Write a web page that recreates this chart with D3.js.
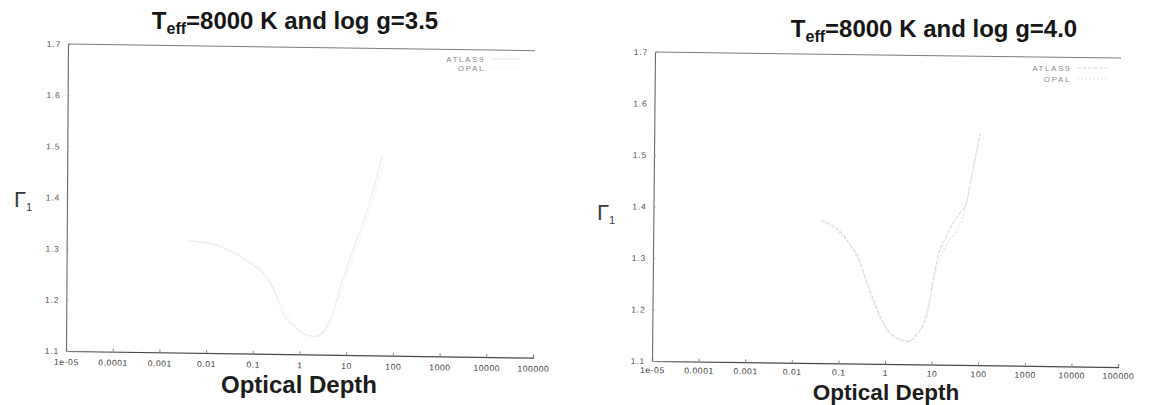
<!DOCTYPE html>
<html>
<head>
<meta charset="utf-8">
<script src="https://cdn.jsdelivr.net/npm/d3@7"></script>
<style>
  html, body { margin: 0; padding: 0; background: #ffffff; }
  svg { display: block; font-family: "Liberation Sans", Arial, Helvetica, sans-serif; }
</style>
</head>
<body>
<svg id="chart" width="1150" height="405"></svg>
<script>
// Axis ticks
const depthTicks = [1e-5, 1e-4, 1e-3, 1e-2, 1e-1, 1, 10, 100, 1000, 1e4, 1e5];
const depthTickLabels = ["1e-05", "0.0001", "0.001", "0.01", "0.1", "1", "10", "100", "1000", "10000", "100000"];
const gammaTicks = [1.1, 1.2, 1.3, 1.4, 1.5, 1.6, 1.7];
const gammaTickLabels = ["1.1", "1.2", "1.3", "1.4", "1.5", "1.6", "1.7"];
const seriesNames = ["ATLAS9", "OPAL"];

// Teff = 8000 K, log g = 3.5
const tauAtlas35 = [0.004, 0.008, 0.014, 0.04, 0.1, 0.16, 0.3, 0.46, 0.8, 1.4, 2.2, 3.5, 5, 6.5, 8, 10, 14, 22, 35, 55];
const gamAtlas35 = [1.318, 1.316, 1.312, 1.295, 1.272, 1.259, 1.218, 1.176, 1.152, 1.138, 1.135, 1.15, 1.18, 1.215, 1.245, 1.27, 1.31, 1.36, 1.42, 1.49];
const tauOpal35 = [0.004, 0.014, 0.04, 0.1, 0.2, 0.35, 0.6, 1.0, 1.8, 3, 4.5, 6.5, 8.5, 11, 16, 25, 40, 60];
const gamOpal35 = [1.32, 1.314, 1.298, 1.275, 1.25, 1.21, 1.17, 1.148, 1.136, 1.14, 1.165, 1.205, 1.235, 1.265, 1.31, 1.36, 1.42, 1.48];

// Teff = 8000 K, log g = 4.0
const tauAtlas40 = [0.04, 0.11, 0.18, 0.25, 0.40, 0.56, 0.72, 1.0, 1.8, 3.2, 4.8, 6.2, 7.9, 9.2, 10, 11, 12.9, 17.8, 24.5, 37, 52, 62, 72, 100];
const gamAtlas40 = [1.378, 1.353, 1.327, 1.308, 1.256, 1.224, 1.198, 1.172, 1.150, 1.144, 1.160, 1.173, 1.199, 1.232, 1.258, 1.277, 1.310, 1.342, 1.368, 1.394, 1.414, 1.453, 1.485, 1.550];
const tauOpal40 = [0.04, 0.1, 0.2, 0.35, 0.6, 1.0, 1.8, 3.2, 5, 7, 9, 10.5, 12, 15, 22, 32, 45, 55, 70, 95];
const gamOpal40 = [1.375, 1.352, 1.32, 1.27, 1.21, 1.172, 1.15, 1.145, 1.16, 1.19, 1.23, 1.26, 1.285, 1.31, 1.34, 1.36, 1.39, 1.43, 1.48, 1.54];

const svg = d3.select("#chart");

function zip(t, g) { return t.map((v, i) => ({ tau: v, gamma: g[i] })); }

function drawPanel(p) {
  const W = p.width, H = p.height;
  const x = d3.scaleLog().domain([1e-5, 1e5]).range([0, W]);
  const y = d3.scaleLinear().domain([1.1, 1.7]).range([0, -H]);

  // the printed frame sits slightly skewed on the page
  const g = svg.append("g")
    .attr("transform", `matrix(1,${p.skewY},${p.skewX},1,${p.x0},${p.y0})`);

  // data curves
  const line = d3.line().x(d => x(d.tau)).y(d => y(d.gamma)).curve(d3.curveMonotoneX);
  p.series.forEach(s => {
    g.append("path")
      .datum(zip(s.tau, s.gamma))
      .attr("fill", "none")
      .attr("stroke", s.color)
      .attr("stroke-width", 1.1)
      .attr("stroke-dasharray", s.dash || null)
      .attr("d", line);
  });

  // bottom axis
  const xAxis = d3.axisBottom(x)
    .tickValues(depthTicks)
    .tickFormat((d, i) => depthTickLabels[i])
    .tickSize(-3)
    .tickPadding(p.xPad);
  const xa = g.append("g").call(xAxis);
  xa.select(".domain").attr("stroke", "#4a4a4a").attr("stroke-width", 1.2);
  xa.selectAll(".tick line").attr("stroke", "#8a8a8a");
  xa.selectAll(".tick text")
    .attr("fill", "#3a3a3a")
    .attr("font-size", 8.5)
    .attr("letter-spacing", 0.6)
    .attr("font-family", "Liberation Sans, Arial, sans-serif");

  // left axis
  const yAxis = d3.axisLeft(y)
    .tickValues(gammaTicks)
    .tickFormat((d, i) => gammaTickLabels[i])
    .tickSize(-2)
    .tickPadding(7);
  const ya = g.append("g").call(yAxis);
  ya.select(".domain").attr("stroke", "#6a6a6a").attr("stroke-width", 1.1);
  ya.selectAll(".tick line").attr("stroke", "#9a9a9a");
  ya.selectAll(".tick text")
    .attr("fill", "#555")
    .attr("font-size", 8.5)
    .attr("letter-spacing", 0.8)
    .attr("font-family", "Liberation Sans, Arial, sans-serif");

  // top border
  g.append("line")
    .attr("x1", x(1e-5)).attr("x2", x(1e5))
    .attr("y1", y(1.7)).attr("y2", y(1.7))
    .attr("stroke", "#7a7a7a").attr("stroke-width", 1);

  // key
  p.series.forEach((s, i) => {
    const ly = p.legendY[i];
    svg.append("text")
      .attr("x", p.legendX).attr("y", ly)
      .attr("dy", "0.35em")
      .attr("text-anchor", "end")
      .attr("font-size", 8)
      .attr("letter-spacing", 1.6)
      .attr("fill", "#8a8a8a")
      .text(seriesNames[i]);
    svg.append("line")
      .attr("x1", p.legendX + 6).attr("x2", p.legendX + 36)
      .attr("y1", ly).attr("y2", ly)
      .attr("stroke", s.color).attr("stroke-width", 1.1)
      .attr("stroke-dasharray", s.dash || null);
  });

  // title
  const t = svg.append("text")
    .attr("x", p.titleX).attr("y", p.titleY)
    .attr("text-anchor", "middle")
    .attr("font-size", 24).attr("font-weight", "bold")
    .attr("fill", "#161616");
  t.append("tspan").text("T");
  t.append("tspan").attr("font-size", 16).attr("dy", 5).text("eff");
  t.append("tspan").attr("dy", -5).text(p.title);

  // axis titles
  svg.append("text")
    .attr("x", p.xLabelX).attr("y", p.xLabelY)
    .attr("text-anchor", "middle")
    .attr("font-size", p.xLabelSize).attr("font-weight", "bold")
    .attr("fill", "#1c1c1c")
    .text("Optical Depth");

  const yl = svg.append("text")
    .attr("x", p.yLabelX).attr("y", p.yLabelY)
    .attr("text-anchor", "middle")
    .attr("font-size", 22)
    .attr("fill", "#3a3a3a");
  yl.append("tspan").text("Γ");
  yl.append("tspan").attr("font-size", 11).attr("dy", 4).text("1");
}

drawPanel({
  x0: 66, y0: 351, width: 467, height: 307, skewY: 0.0143, skewX: -0.0065,
  title: "=8000 K and log g=3.5", titleX: 295, titleY: 29,
  xLabelX: 299, xLabelY: 393, xLabelSize: 24, xPad: 8,
  yLabelX: 23, yLabelY: 207,
  legendX: 485, legendY: [59, 68],
  series: [
    { tau: tauAtlas35, gamma: gamAtlas35, color: "#ececec" },
    { tau: tauOpal35, gamma: gamOpal35, color: "#efefef", dash: "2,2" }
  ]
});

drawPanel({
  x0: 652, y0: 361, width: 466, height: 309, skewY: 0.0129, skewX: -0.0097,
  title: "=8000 K and log g=4.0", titleX: 934, titleY: 37,
  xLabelX: 886, xLabelY: 400, xLabelSize: 22.5, xPad: 6,
  yLabelX: 606, yLabelY: 220,
  legendX: 1071, legendY: [68, 79],
  series: [
    { tau: tauAtlas40, gamma: gamAtlas40, color: "#d9d9d9", dash: "4,1.5" },
    { tau: tauOpal40, gamma: gamOpal40, color: "#e2e2e2", dash: "2,2" }
  ]
});
</script>
</body>
</html>
